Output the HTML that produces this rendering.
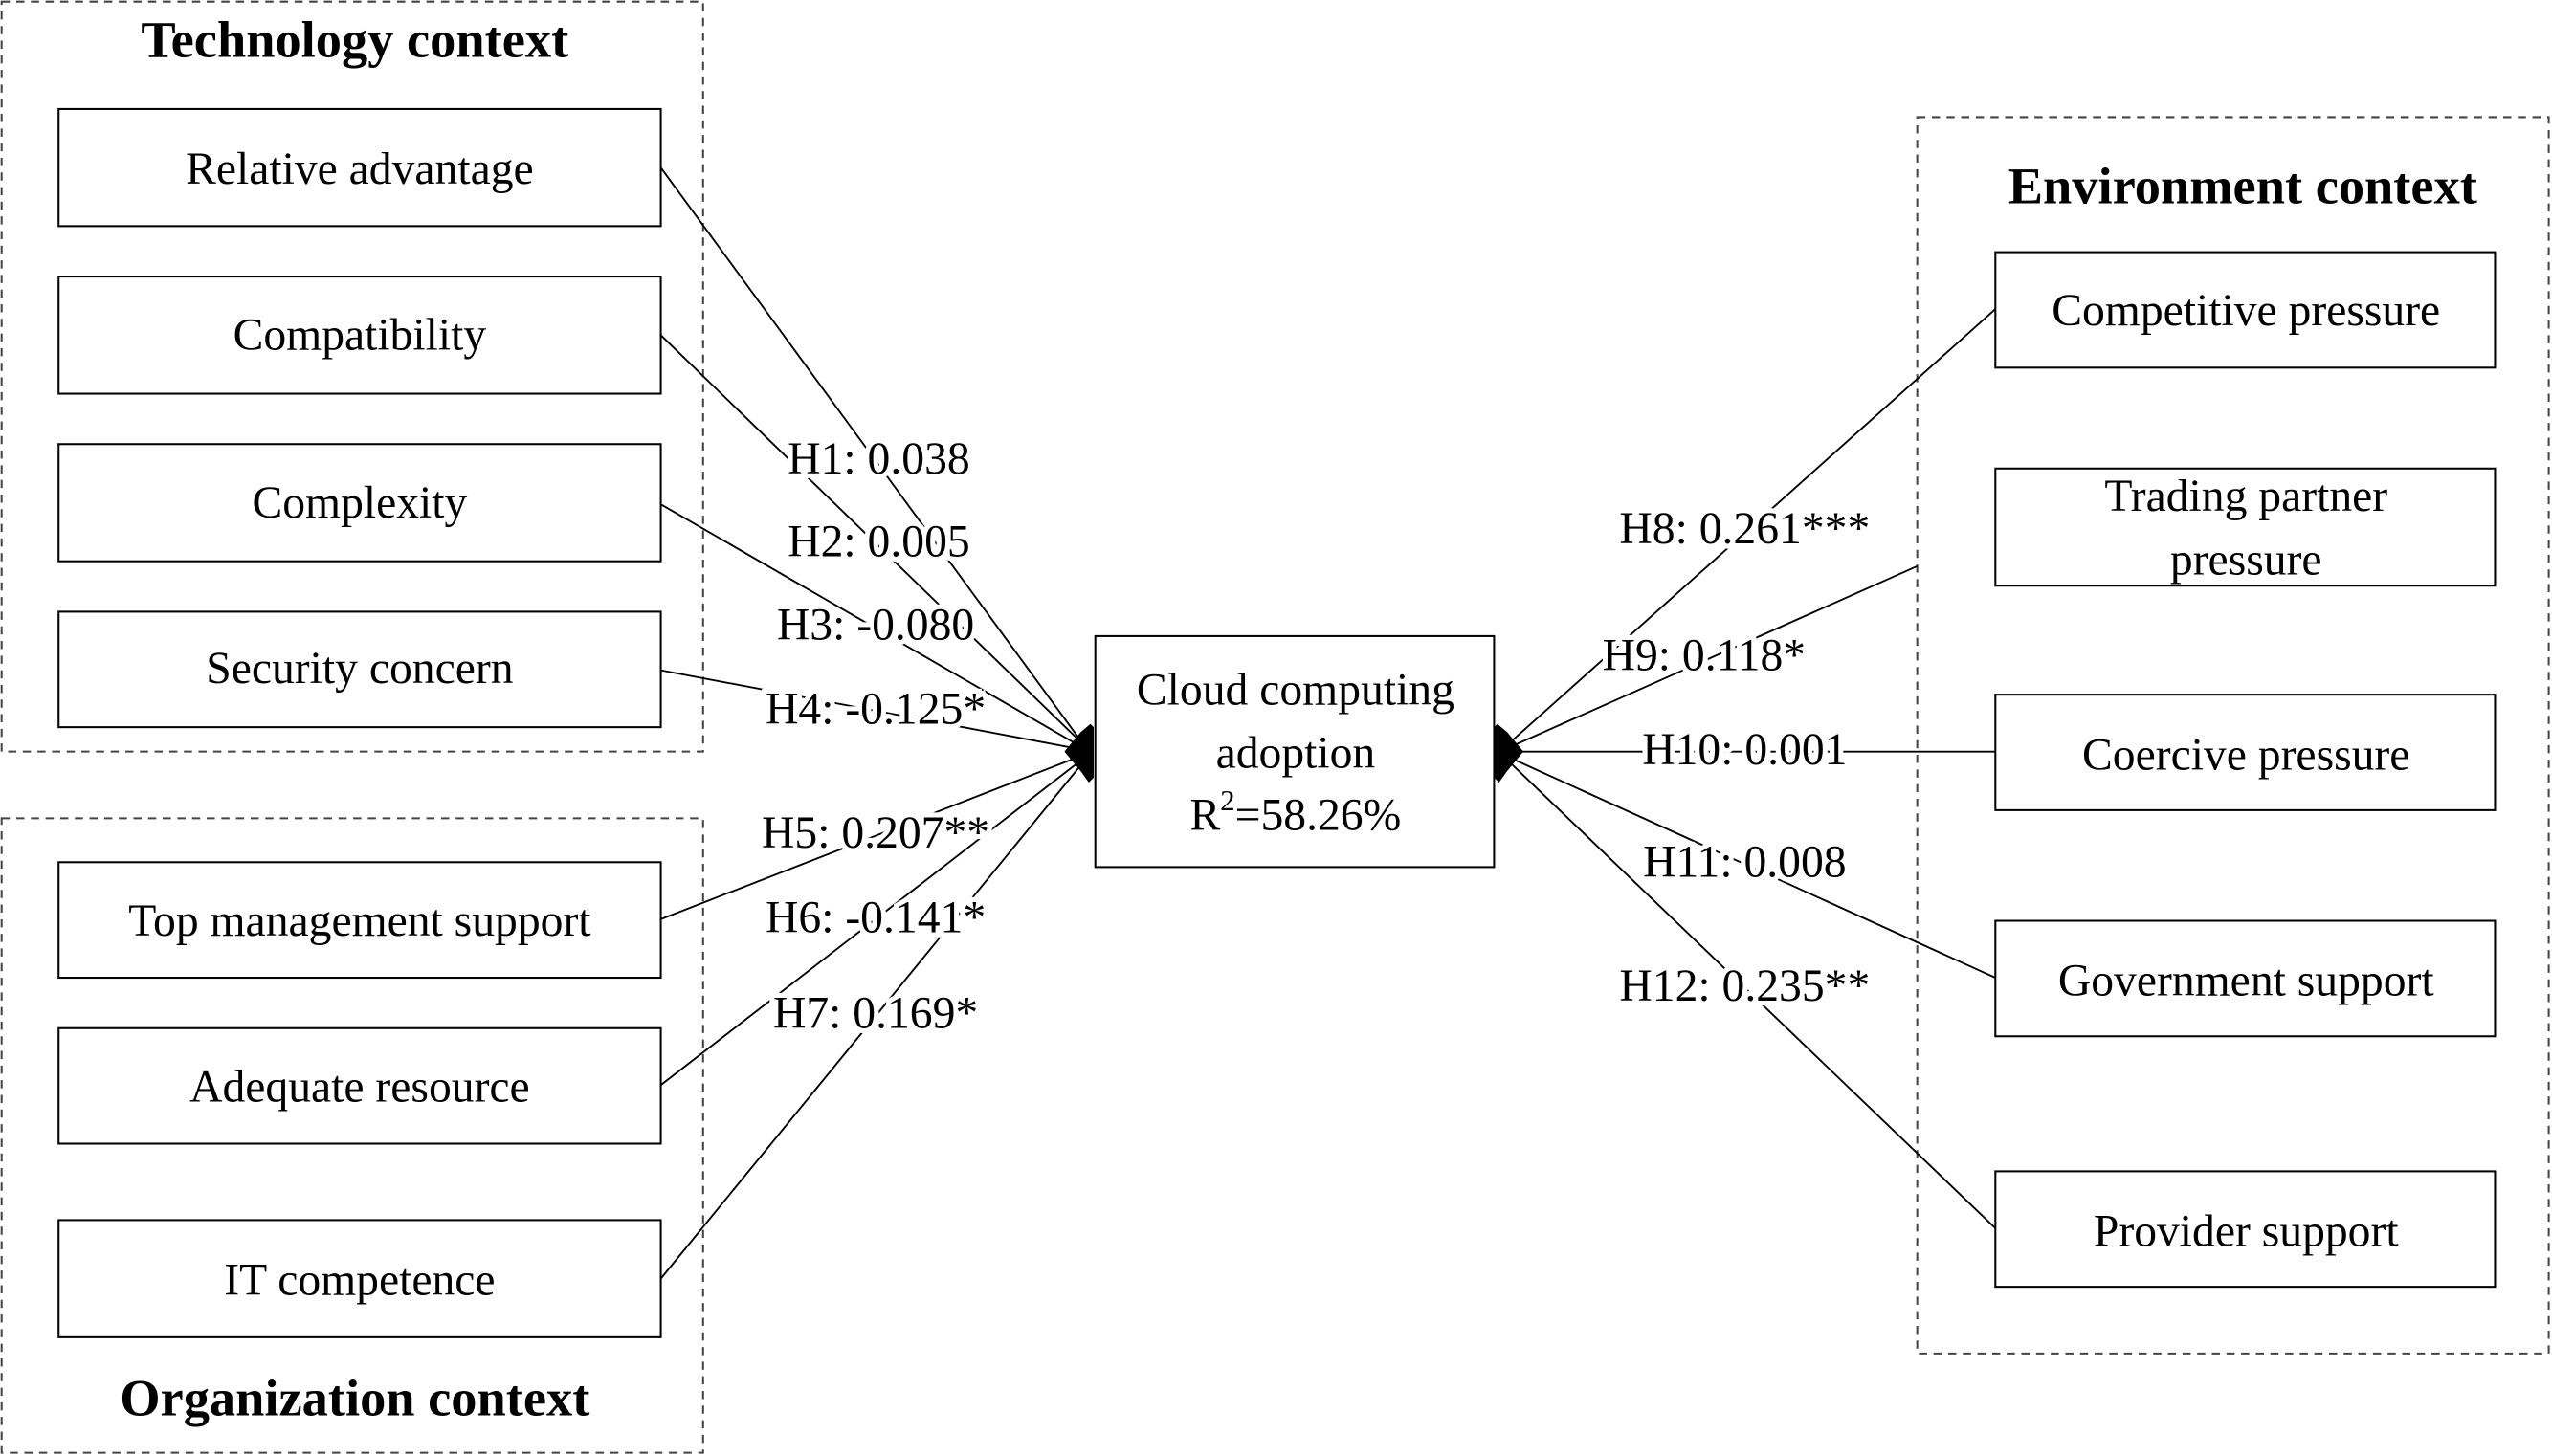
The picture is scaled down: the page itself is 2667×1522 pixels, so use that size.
<!DOCTYPE html>
<html><head><meta charset="utf-8"><style>
html,body{margin:0;padding:0;background:#fff;}
svg{display:block;}
text{font-family:"Liberation Serif",serif;fill:#000;}
.l{font-size:28px;text-anchor:middle;}
.h{font-size:28px;text-anchor:middle;paint-order:stroke;stroke:#fff;stroke-width:6px;}
.t{font-size:32px;font-weight:bold;text-anchor:middle;}
</style></head><body>
<svg width="2667" height="1522" viewBox="0 0 1568 895" preserveAspectRatio="none" xmlns="http://www.w3.org/2000/svg">
<g fill="none" stroke="#444" stroke-width="1.2" stroke-dasharray="5,4">
<rect x="1" y="1" width="431" height="461"/>
<rect x="1" y="503" width="431" height="390"/>
<rect x="1178" y="72" width="388" height="760"/>
</g>
<g fill="#fff" stroke="#000" stroke-width="1.2">
<rect x="36" y="67" width="370" height="72"/>
<rect x="36" y="170" width="370" height="72"/>
<rect x="36" y="273" width="370" height="72"/>
<rect x="36" y="376" width="370" height="71"/>
<rect x="36" y="530" width="370" height="71"/>
<rect x="36" y="632" width="370" height="71"/>
<rect x="36" y="750" width="370" height="72"/>
<rect x="1226" y="155" width="307" height="71"/>
<rect x="1226" y="288" width="307" height="72"/>
<rect x="1226" y="427" width="307" height="71"/>
<rect x="1226" y="566" width="307" height="71"/>
<rect x="1226" y="720" width="307" height="71"/>
<rect x="673" y="391" width="245" height="142"/>
</g>
<g stroke="#000" stroke-width="1.1">
<line x1="406" y1="103" x2="666" y2="458"/>
<line x1="406" y1="206" x2="666" y2="458"/>
<line x1="406" y1="310" x2="666" y2="460"/>
<line x1="406" y1="412" x2="666" y2="461"/>
<line x1="406" y1="565" x2="666" y2="464"/>
<line x1="406" y1="667" x2="666" y2="466"/>
<line x1="406" y1="786" x2="666" y2="468"/>
<line x1="1226" y1="190" x2="926" y2="458"/>
<line x1="1178" y1="348" x2="926" y2="460"/>
<line x1="1226" y1="462" x2="926" y2="462"/>
<line x1="1226" y1="601" x2="926" y2="465"/>
<line x1="1226" y1="755" x2="926" y2="467"/>
</g>
<polygon points="654,462 664,450 670,445 672,447 672,478 669,481 664,474" fill="#000"/>
<polygon points="936,462 926,450 920,445 918,447 918,478 921,481 926,474" fill="#000"/>
<text class="t" x="218" y="35">Technology context</text>
<text class="t" x="218" y="870">Organization context</text>
<text class="t" x="1378" y="125">Environment context</text>
<text class="l" x="221" y="113">Relative advantage</text>
<text class="l" x="221" y="215">Compatibility</text>
<text class="l" x="221" y="318">Complexity</text>
<text class="l" x="221" y="420">Security concern</text>
<text class="l" x="221" y="575">Top management support</text>
<text class="l" x="221" y="677">Adequate resource</text>
<text class="l" x="221" y="796">IT competence</text>
<text class="l" x="1380" y="200">Competitive pressure</text>
<text class="l" x="1380" y="314">Trading partner</text>
<text class="l" x="1380" y="353">pressure</text>
<text class="l" x="1380" y="473">Coercive pressure</text>
<text class="l" x="1380" y="612">Government support</text>
<text class="l" x="1380" y="766">Provider support</text>
<text class="l" x="796" y="433">Cloud computing</text>
<text class="l" x="796" y="472">adoption</text>
<text class="l" x="796" y="510">R<tspan font-size="18" dy="-12">2</tspan><tspan dy="12">=58.26%</tspan></text>
<text class="h" x="540" y="291">H1: 0.038</text>
<text class="h" x="540" y="342">H2: 0.005</text>
<text class="h" x="538" y="393">H3: -0.080</text>
<text class="h" x="538" y="445">H4: -0.125*</text>
<text class="h" x="538" y="521">H5: 0.207**</text>
<text class="h" x="538" y="573">H6: -0.141*</text>
<text class="h" x="538" y="632">H7: 0.169*</text>
<text class="h" x="1072" y="334">H8: 0.261***</text>
<text class="h" x="1047" y="412">H9: 0.118*</text>
<text class="h" x="1072" y="470">H10: 0.001</text>
<text class="h" x="1072" y="539">H11: 0.008</text>
<text class="h" x="1072" y="615">H12: 0.235**</text>
</svg>
</body></html>
